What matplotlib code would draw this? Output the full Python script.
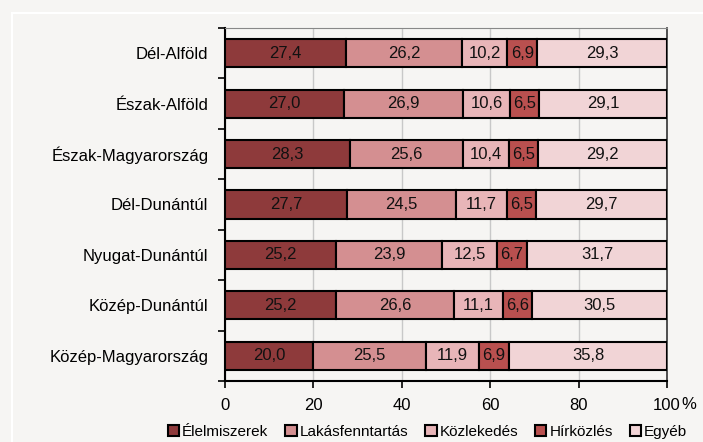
import matplotlib.pyplot as plt
from matplotlib.patches import Rectangle
import numpy as np

regions = ["Dél-Alföld", "Észak-Alföld", "Észak-Magyarország", "Dél-Dunántúl",
           "Nyugat-Dunántúl", "Közép-Dunántúl", "Közép-Magyarország"]
series = ["Élelmiszerek", "Lakásfenntartás", "Közlekedés", "Hírközlés", "Egyéb"]
elelmiszer = [27.4, 27.0, 28.3, 27.7, 25.2, 25.2, 20.0]
lakas = [26.2, 26.9, 25.6, 24.5, 23.9, 26.6, 25.5]
kozlekedes = [10.2, 10.6, 10.4, 11.7, 12.5, 11.1, 11.9]
hirkozles = [6.9, 6.5, 6.5, 6.5, 6.7, 6.6, 6.9]
egyeb = [29.3, 29.1, 29.2, 29.7, 31.7, 30.5, 35.8]
colors = ["#8e3a3b", "#d48f91", "#e8b5b8", "#b9504f", "#f1d4d6"]

plt.rcParams['font.family'] = ['Liberation Sans', 'DejaVu Sans']
bg = "#f6f5f3"
fs = 12

fig = plt.figure(figsize=(7.03, 4.42), dpi=100, facecolor=bg)
fig.patches.append(Rectangle((12/703, -0.1), 1.0, (442-13)/442 + 0.1, transform=fig.transFigure,
                             fill=False, edgecolor="white", linewidth=1.5))
ax = fig.add_axes([225/703, 61/442, 442/703, 353/442])
ax.set_facecolor(bg)

data = [elelmiszer, lakas, kozlekedes, hirkozles, egyeb]
y = np.arange(len(regions))[::-1]
left = np.zeros(len(regions))
for name, vals, c in zip(series, data, colors):
    vals = np.array(vals)
    ax.barh(y, vals, left=left, height=0.56, color=c, edgecolor="black", linewidth=1.5, label=name, zorder=3)
    for yi, l, v in zip(y, left, vals):
        ax.text(l + v / 2, yi, f"{v:.1f}".replace(".", ","), ha="center", va="center",
                fontsize=fs, color="#111111", zorder=4)
    left += vals

ax.set_xlim(0, 100)
ax.set_ylim(-0.5, len(regions) - 0.5)
ax.set_xticks([0, 20, 40, 60, 80, 100])
ax.set_xticklabels(["0", "20", "40", "60", "80", "100"], fontsize=fs)
ax.set_yticks(y)
ax.set_yticklabels(regions, fontsize=fs)
ax.set_yticks(np.arange(-0.5, len(regions)), minor=True)
ax.tick_params(axis="y", which="major", length=0, pad=12)
ax.tick_params(axis="y", which="minor", length=5, width=1.2)
ax.tick_params(axis="x", length=5, width=1.2, pad=7)
ax.grid(axis="x", color="#c8c8c8", linewidth=1, zorder=0)
for s in ["left", "bottom"]:
    ax.spines[s].set_linewidth(1.5)
    ax.spines[s].set_color("black")
ax.spines["top"].set_color("#888888")
ax.spines["right"].set_color("#333333")
ax.spines["right"].set_linewidth(1.2)
ax.text(1.05, -0.066, "%", transform=ax.transAxes, fontsize=fs, ha="center", va="center")

ax.legend(loc="center", bbox_to_anchor=(0.458, -0.145), ncol=5, frameon=False, fontsize=11,
          handlelength=0.75, handleheight=0.75, handletextpad=0.2, columnspacing=1.1, borderaxespad=0)

plt.savefig("out.png", dpi=100, facecolor=bg)
